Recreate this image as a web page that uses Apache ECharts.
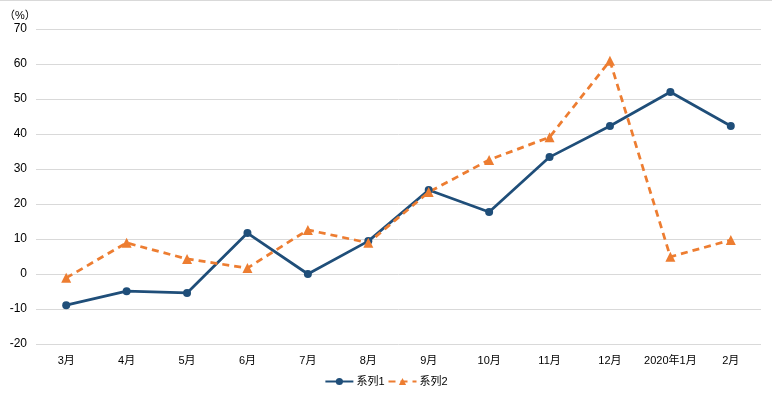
<!DOCTYPE html>
<html>
<head>
<meta charset="utf-8">
<script src="https://cdn.jsdelivr.net/npm/echarts@6/dist/echarts.min.js"></script>
<style>
  html, body { margin: 0; padding: 0; background: #fff; }
  #main { width: 772px; height: 397px; }
</style>
</head>
<body>
<div id="main"></div>
<script>
var months = ['3月', '4月', '5月', '6月', '7月', '8月', '9月', '10月', '11月', '12月', '2020年1月', '2月'];
var series1 = [-8.9, -4.9, -5.4, 11.7, 0, 9.4, 24, 17.7, 33.4, 42.3, 52, 42.3];
var series2 = [-1.1, 8.9, 4.3, 1.7, 12.6, 8.9, 23.4, 32.6, 39.1, 60.9, 4.9, 9.7];

var labelFont = 'Liberation Sans, "Noto Sans CJK SC", sans-serif';
var chart = echarts.init(document.getElementById('main'));
chart.setOption({
  animation: false,
  graphic: [{
    type: 'line', shape: { x1: 0, y1: 0.5, x2: 772, y2: 0.5 },
    style: { stroke: '#d9d9d9', lineWidth: 1 }
  }, {
    type: 'text', left: 4, top: 10,
    style: { text: '（%）', font: '11px ' + labelFont, fill: '#000' }
  }],
  grid: { left: 36, right: 11, top: 29, bottom: 53, containLabel: false },
  legend: {
    bottom: 5, left: 'center', itemGap: 3, itemWidth: 28, itemHeight: 9,
    textStyle: { fontSize: 11, color: '#000', fontFamily: labelFont, padding: [0, 0, 0, -2] },
    data: ['系列1', '系列2']
  },
  xAxis: {
    type: 'category', data: months, boundaryGap: true,
    axisLine: { show: false }, axisTick: { show: false },
    axisLabel: { color: '#000', fontSize: 11, fontFamily: labelFont, margin: 11, interval: 0 }
  },
  yAxis: {
    type: 'value', min: -20, max: 70, interval: 10,
    axisLine: { show: false }, axisTick: { show: false },
    axisLabel: { color: '#000', fontSize: 12, fontFamily: labelFont, margin: 9 },
    splitLine: { lineStyle: { color: '#d9d9d9', width: 1 } }
  },
  series: [{
    name: '系列1', type: 'line', data: series1,
    symbol: 'circle', symbolSize: 8,
    lineStyle: { color: '#1f4e79', width: 2.75 },
    itemStyle: { color: '#1f4e79' }
  }, {
    name: '系列2', type: 'line', data: series2,
    symbol: 'triangle', symbolSize: 10,
    lineStyle: { color: '#ed7d31', width: 2.75, type: [7, 5] },
    itemStyle: { color: '#ed7d31' }
  }]
});
</script>
</body>
</html>
